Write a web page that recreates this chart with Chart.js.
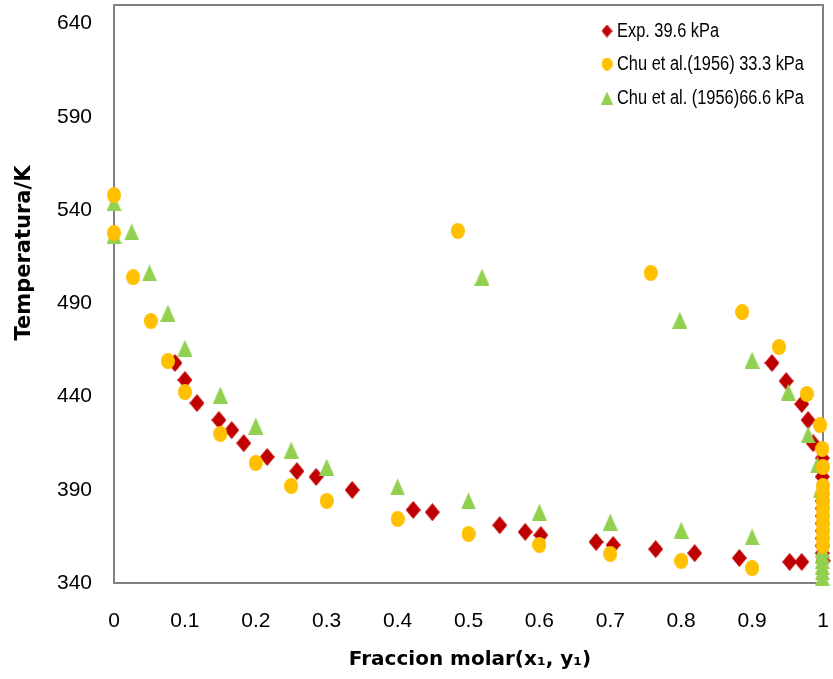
<!DOCTYPE html>
<html>
<head>
<meta charset="utf-8">
<script src="https://cdn.jsdelivr.net/npm/chart.js@4.4.1/dist/chart.umd.min.js"></script>
<style>
  html, body { margin: 0; padding: 0; background: #fff; }
</style>
</head>
<body>
<canvas id="grafico" width="833" height="679"></canvas>
<script>
// Exp. 39.6 kPa
const xExp = [0.086, 0.100, 0.117, 0.148, 0.166, 0.183, 0.216, 0.258, 0.285, 0.336, 0.422, 0.449,
  0.544, 0.580, 0.602, 0.680, 0.704, 0.764, 0.819, 0.882, 0.953, 0.970,
  0.928, 0.948, 0.970, 0.979, 0.986, 0.999, 0.999, 0.999, 0.999, 0.999, 0.999, 0.999,
  0.999, 0.999, 0.999, 0.999, 1.0];
const tExp = [458, 448.9, 436.5, 427.4, 422, 415, 407.6, 400, 396.9, 389.9, 379.2, 378,
  371, 367.4, 365.7, 362, 360.4, 358.2, 356, 353.4, 351.3, 351.3,
  458, 448.3, 436, 427.4, 415, 407, 397, 388, 384, 380, 376, 372,
  368, 364, 360, 356, 352];

// Chu et al. (1956) 33.3 kPa
const xChu33 = [0, 0, 0.027, 0.052, 0.076, 0.10, 0.15, 0.20, 0.25, 0.30, 0.40, 0.50, 0.60, 0.70, 0.80, 0.90,
  0.485, 0.757, 0.886, 0.938, 0.977, 0.996, 0.999, 1, 1, 1, 1, 1, 1, 1, 1, 1, 1];
const tChu33 = [548, 527.7, 504, 480.5, 459, 442.4, 420, 404.4, 392, 384, 374.3, 366.3, 360.4, 355.6, 351.8, 348,
  528.8, 506.3, 485.3, 466.6, 441.4, 424.7, 411.9, 402.2, 392, 388, 384, 380, 376, 372, 368, 364, 360];

// Chu et al. (1956) 66.6 kPa
const xChu66 = [0, 0, 0.025, 0.05, 0.076, 0.10, 0.15, 0.20, 0.25, 0.30, 0.40, 0.50, 0.60, 0.70, 0.80, 0.90,
  0.519, 0.798, 0.90, 0.951, 0.979, 0.992, 0.996, 0.999, 0.999, 0.999, 0.999, 0.999, 0.999];
const tChu66 = [544, 526.6, 528.3, 506.3, 484.8, 466, 440.8, 424.2, 411.3, 402.2, 391.5, 384, 378, 372.7, 368.4, 364.7,
  504.1, 481, 459.6, 442.4, 419.4, 403.3, 389.9, 358, 355, 352, 349, 346, 343];

const nombresSeries = ['Exp. 39.6 kPa', 'Chu et al.(1956) 33.3 kPa', 'Chu et al. (1956)66.6 kPa'];
const xTicks = [0, 0.1, 0.2, 0.3, 0.4, 0.5, 0.6, 0.7, 0.8, 0.9, 1];
const yTicks = [340, 390, 440, 490, 540, 590, 640];
const tituloX = 'Fraccion molar(x\u2081, y\u2081)';
const tituloY = 'Temperatura/K';

const ROJO = '#C00000';
const AMARILLO = '#FFC000';
const VERDE = '#92D050';

// marcadores dibujados a mano (un poco más altos que anchos, como en el original)
function marcador(forma, w, h, color) {
  const c = document.createElement('canvas');
  c.width = w; c.height = h;
  const g = c.getContext('2d');
  g.fillStyle = color;
  g.beginPath();
  if (forma === 'rombo') {
    g.moveTo(w / 2, 0); g.lineTo(w, h / 2); g.lineTo(w / 2, h); g.lineTo(0, h / 2);
  } else if (forma === 'circulo') {
    g.ellipse(w / 2, h / 2, w / 2, h / 2, 0, 0, Math.PI * 2);
  } else {
    g.moveTo(w / 2, 0); g.lineTo(w, h); g.lineTo(0, h);
  }
  g.closePath();
  g.fill();
  return c;
}

const mRojo = marcador('rombo', 15, 18, ROJO);
const mAmarillo = marcador('circulo', 14, 16, AMARILLO);
const mVerde = marcador('triangulo', 15, 17, VERDE);
const leyendaMarcas = [
  marcador('rombo', 11, 13, ROJO),
  marcador('circulo', 11, 13, AMARILLO),
  marcador('triangulo', 12, 13, VERDE)
];

const puntos = (xs, ys) => xs.map((x, i) => ({ x: x, y: ys[i] }));

// marco, leyenda y títulos
const extras = {
  id: 'extras',
  beforeDatasetsDraw(chart) {
    const { ctx, chartArea: a } = chart;
    ctx.save();
    ctx.strokeStyle = '#808080';
    ctx.lineWidth = 2;
    ctx.strokeRect(a.left, a.top, a.right - a.left, a.bottom - a.top);
    ctx.restore();
  },
  afterDraw(chart) {
    const ctx = chart.ctx;
    ctx.save();
    // título eje Y
    ctx.translate(25, 253);
    ctx.rotate(-Math.PI / 2);
    ctx.font = 'bold 21px "DejaVu Sans", sans-serif';
    ctx.fillStyle = '#000';
    ctx.textAlign = 'center';
    ctx.textBaseline = 'middle';
    ctx.fillText(tituloY, 0, 0);
    ctx.restore();

    // título eje X
    ctx.save();
    ctx.font = 'bold 20px "DejaVu Sans", sans-serif';
    ctx.fillStyle = '#000';
    ctx.textAlign = 'center';
    ctx.textBaseline = 'middle';
    ctx.fillText(tituloX, 470, 660);
    ctx.restore();

    // leyenda
    const filas = [31, 64, 98];
    nombresSeries.forEach((nombre, i) => {
      const m = leyendaMarcas[i];
      ctx.drawImage(m, 607 - m.width / 2, filas[i] - m.height / 2);
      ctx.save();
      ctx.translate(617, filas[i]);
      ctx.scale(0.82, 1);
      ctx.font = '20px "Liberation Sans", Arial, sans-serif';
      ctx.fillStyle = '#000';
      ctx.textAlign = 'left';
      ctx.textBaseline = 'middle';
      ctx.fillText(nombre, 0, 0);
      ctx.restore();
    });
  }
};

const fuenteEjes = { family: '"Liberation Sans", Arial, sans-serif', size: 21 };

new Chart(document.getElementById('grafico'), {
  type: 'scatter',
  data: {
    datasets: [
      { label: nombresSeries[1], data: puntos(xChu33, tChu33), pointStyle: mAmarillo, order: 0, clip: false },
      { label: nombresSeries[2], data: puntos(xChu66, tChu66), pointStyle: mVerde, order: 1, clip: false },
      { label: nombresSeries[0], data: puntos(xExp, tExp), pointStyle: mRojo, order: 2, clip: false }
    ]
  },
  options: {
    responsive: false,
    animation: false,
    layout: { padding: { top: 5, right: 10, left: 0, bottom: 0 } },
    plugins: {
      legend: { display: false },
      tooltip: { enabled: false }
    },
    scales: {
      x: {
        type: 'linear',
        min: 0,
        max: 1,
        afterBuildTicks: s => { s.ticks = xTicks.map(v => ({ value: v })); },
        afterFit: s => { s.height = 96; s.paddingLeft = 0; s.paddingRight = 0; },
        grid: { display: false, drawTicks: false },
        border: { display: false },
        ticks: {
          color: '#000',
          font: fuenteEjes,
          padding: 26,
          maxRotation: 0,
          autoSkip: false,
          callback: v => String(Number(v.toFixed(1)))
        }
      },
      y: {
        type: 'linear',
        min: 340,
        max: 650,
        afterBuildTicks: s => { s.ticks = yTicks.map(v => ({ value: v })); },
        afterFit: s => { s.width = 114; s.paddingTop = 0; s.paddingBottom = 0; },
        grid: { display: false, drawTicks: false },
        border: { display: false },
        ticks: {
          color: '#000',
          font: fuenteEjes,
          padding: 22,
          autoSkip: false
        }
      }
    }
  },
  plugins: [extras]
});
</script>
</body>
</html>
